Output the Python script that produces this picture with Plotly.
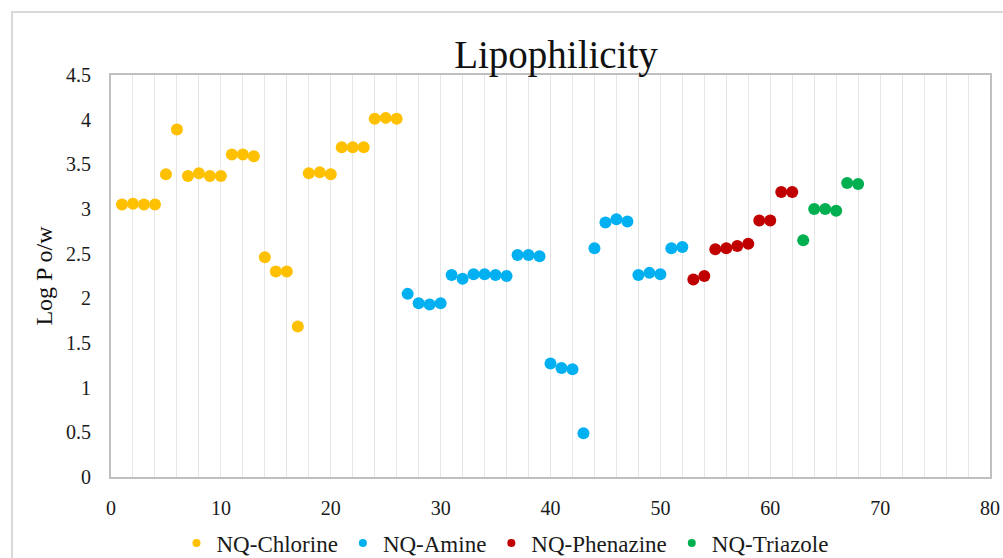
import plotly.graph_objects as go

chlorine_x = list(range(1, 27))
chlorine_y = [3.05, 3.06, 3.05, 3.05, 3.39, 3.89, 3.37, 3.40, 3.37, 3.37,
              3.61, 3.61, 3.59, 2.46, 2.30, 2.30, 1.685, 3.40, 3.41, 3.39,
              3.69, 3.69, 3.69, 4.01, 4.02, 4.01]
amine_x = list(range(27, 53))
amine_y = [2.05, 1.945, 1.93, 1.945, 2.26, 2.22, 2.27, 2.27, 2.26, 2.25,
           2.485, 2.485, 2.47, 1.27, 1.22, 1.205, 0.49, 2.56, 2.85, 2.885,
           2.86, 2.26, 2.285, 2.27, 2.56, 2.575]
phenazine_x = list(range(53, 63))
phenazine_y = [2.21, 2.25, 2.55, 2.56, 2.585, 2.61, 2.87, 2.87, 3.19, 3.19]
triazole_x = list(range(63, 69))
triazole_y = [2.65, 3.00, 3.00, 2.98, 3.29, 3.28]

series = [
    ("NQ-Chlorine", chlorine_x, chlorine_y, "#FFC000"),
    ("NQ-Amine", amine_x, amine_y, "#00B0F0"),
    ("NQ-Phenazine", phenazine_x, phenazine_y, "#C00000"),
    ("NQ-Triazole", triazole_x, triazole_y, "#00B050"),
]

FONT = "Liberation Serif"
fig = go.Figure()
for name, xs, ys, c in series:
    fig.add_trace(go.Scatter(x=xs, y=ys, mode="markers", name=name,
                             showlegend=False, legendgroup=name,
                             marker=dict(color=c, size=12, line=dict(width=0))))
for name, xs, ys, c in series:
    fig.add_trace(go.Scatter(x=[None], y=[None], mode="markers", name=name,
                             showlegend=True, legendgroup=name,
                             marker=dict(color=c, size=8, line=dict(width=0))))

fig.update_layout(
    width=1003, height=558,
    paper_bgcolor="white", plot_bgcolor="white",
    margin=dict(l=111, r=13, t=75, b=81, autoexpand=False),
    font=dict(family=FONT, color="#1a1a1a"),
    title=dict(text="Lipophilicity", x=556 / 1003, xref="container", xanchor="center",
               y=1 - 54 / 558, yref="container", yanchor="middle",
               font=dict(family=FONT, size=39, color="#111111")),
    showlegend=True,
    legend=dict(orientation="h", x=505 / 1003, xanchor="center", xref="container",
                y=1 - 543 / 558, yref="container", yanchor="middle",
                font=dict(family=FONT, size=23, color="#1a1a1a"),
                itemwidth=30, tracegroupgap=0, bgcolor="rgba(0,0,0,0)"),
    xaxis=dict(range=[0, 80], dtick=10, tick0=0, showgrid=True,
               gridcolor="#E6E6E6", gridwidth=1, automargin=False,
               minor=dict(dtick=2, showgrid=True, gridcolor="#E6E6E6", gridwidth=1),
               showline=True, linecolor="#BFBFBF", linewidth=2, mirror=True,
               zeroline=False, ticks="", ticklabelstandoff=12,
               tickfont=dict(family=FONT, size=20, color="#1a1a1a")),
    yaxis=dict(range=[0, 4.5], dtick=0.5, tick0=0, showgrid=False,
               showline=True, linecolor="#BFBFBF", linewidth=2, mirror=True,
               zeroline=False, ticks="", ticklabelstandoff=14, automargin=False,
               title=dict(text="Log P o/w", standoff=7,
                          font=dict(family=FONT, size=24, color="#111111")),
               tickfont=dict(family=FONT, size=20, color="#1a1a1a")),
)

fig.add_shape(type="rect", xref="paper", yref="paper",
              x0=-99 / 879, x1=1.02, y0=-0.3, y1=1 + 63 / 402,
              line=dict(color="#D9D9D9", width=2), fillcolor="rgba(0,0,0,0)",
              layer="below")

fig.write_html("out.html")
